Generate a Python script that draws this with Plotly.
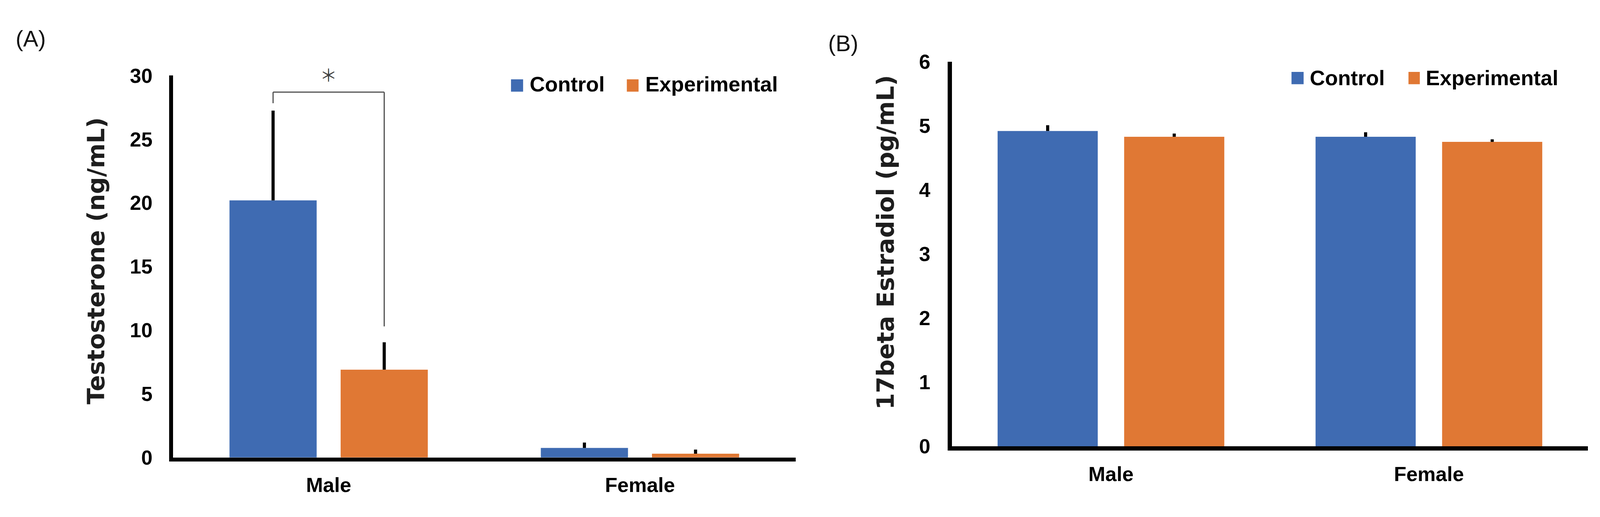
import plotly.graph_objects as go

W, H = 4227, 1323

# ---- data ----
sexes = ["Male", "Female"]
groups = ["Control", "Experimental"]

testo_control = [20.2, 0.75]
testo_control_err = [7.05, 0.42]
testo_exp = [6.9, 0.3]
testo_exp_err = [2.15, 0.32]

estra_control = [4.92, 4.83]
estra_control_err = [0.09, 0.07]
estra_exp = [4.83, 4.75]
estra_exp_err = [0.05, 0.04]

no_err = [0, 0]

# significance bracket (Male, control vs experimental)
bracket_top = 28.7
bracket_legs = [27.83, 10.3]
star_y = 30.1
ymax_a, ymax_b = 30, 6

BLUE = "#3f6bb2"
ORANGE = "#e07834"


def px(x):
    return x / W


def py(y):
    return 1 - y / H


# bar geometry per panel (category units)
bw_a, gap_a = 0.28, 0.077
bw_b, gap_b = 0.315, 0.083


def bar(y, err, name, color, width, offset, xa, ya):
    return go.Bar(
        x=sexes, y=y, name=name, width=width, offset=offset,
        marker=dict(color=color, line=dict(width=0)),
        error_y=dict(type="data", symmetric=False, array=err, arrayminus=no_err,
                     color="black", thickness=8, width=0),
        xaxis=xa, yaxis=ya, showlegend=False,
    )


fig = go.Figure()
fig.add_trace(bar(testo_control, testo_control_err, groups[0], BLUE, bw_a, -(bw_a + gap_a / 2), "x", "y"))
fig.add_trace(bar(testo_exp, testo_exp_err, groups[1], ORANGE, bw_a, gap_a / 2, "x", "y"))
fig.add_trace(bar(estra_control, estra_control_err, groups[0], BLUE, bw_b, -(bw_b + gap_b / 2), "x2", "y2"))
fig.add_trace(bar(estra_exp, estra_exp_err, groups[1], ORANGE, bw_b, gap_b / 2, "x2", "y2"))

tick_font = dict(family="Liberation Sans", size=52, color="black", weight="bold")

axis_common = dict(showgrid=False, zeroline=False, showline=True, linecolor="black",
                   ticks="outside", tickcolor="rgba(0,0,0,0)", tickfont=tick_font)

fig.update_layout(
    autosize=True,
    margin=dict(l=0, r=0, t=0, b=0),
    paper_bgcolor="white", plot_bgcolor="white",
    barmode="overlay",
    xaxis=dict(domain=[px(457), px(2102)], anchor="y", type="category",
               range=[-0.5, 1.5], linewidth=10, ticklen=16, **axis_common),
    yaxis=dict(domain=[py(1194), py(172)], anchor="x", range=[0, ymax_a], dtick=5,
               linewidth=10, ticklen=32, **axis_common),
    xaxis2=dict(domain=[px(2515), px(4195)], anchor="y2", type="category",
                range=[-0.5, 1.5], linewidth=11, ticklen=16, **axis_common),
    yaxis2=dict(domain=[py(1164), py(135)], anchor="x2", range=[0, ymax_b], dtick=1,
                linewidth=11, ticklen=34, **axis_common),
)

centred = dict(showarrow=False, xanchor="center", yanchor="middle")

# significance bracket drawn in data coordinates of panel A
ctrl_c = -(bw_a + gap_a) / 2
exp_c = (bw_a + gap_a) / 2
br = dict(color="#505050", width=3)
fig.add_shape(type="line", xref="x", yref="y", x0=ctrl_c, x1=ctrl_c, y0=bracket_legs[0], y1=bracket_top, line=br)
fig.add_shape(type="line", xref="x", yref="y", x0=ctrl_c, x1=exp_c, y0=bracket_top, y1=bracket_top, line=br)
fig.add_shape(type="line", xref="x", yref="y", x0=exp_c, x1=exp_c, y0=bracket_legs[1], y1=bracket_top, line=br)
fig.add_annotation(x=0, y=star_y / ymax_a, xref="x", yref="y domain", text="＊", **centred,
                   font=dict(family="Noto Sans CJK JP", size=44, color="#404040"))

# axis titles
title_font = dict(family="DejaVu Sans", size=61, color="#1e1e1e", weight="bold")
fig.add_annotation(x=px(254), y=py(668), xref="paper", yref="paper", text="Testosterone (ng/mL)",
                   textangle=-90, font=title_font, **centred)
fig.add_annotation(x=px(2339), y=py(619), xref="paper", yref="paper", text="17beta Estradiol (pg/mL)",
                   textangle=-90, font=title_font, **centred)

# panel labels
panel_font = dict(family="Liberation Sans", size=58, color="#111111")
fig.add_annotation(x=px(81), y=py(73), xref="paper", yref="paper", text="(A)", font=panel_font, **centred)
fig.add_annotation(x=px(2228), y=py(85), xref="paper", yref="paper", text="(B)", font=panel_font, **centred)

# legends (drawn by hand so the swatches match the large text)
leg_font = dict(family="Liberation Sans", size=54, color="black", weight="bold")
legends = [
    # (swatch x0, x1, y top, y bottom, text x, text y center)
    [(1350, 1382, 182, 215, 1397, 195), (1656, 1687, 182, 215, 1703, 195)],
    [(3412, 3444, 162, 195, 3458, 178), (3721, 3751, 162, 195, 3765, 178)],
]
for panel in legends:
    for (x0, x1, yt, yb, tx, ty), name, col in zip(panel, groups, [BLUE, ORANGE]):
        fig.add_shape(type="rect", xref="paper", yref="paper", x0=px(x0), x1=px(x1),
                      y0=py(yb), y1=py(yt), fillcolor=col, line=dict(width=0))
        fig.add_annotation(x=px(tx), y=py(ty), xref="paper", yref="paper", text=name,
                           xanchor="left", yanchor="middle", showarrow=False, font=leg_font)

fig.write_html(
    "out.html",
    config={"responsive": True, "displayModeBar": False},
    default_width="100vw",
    default_height="100vh",
    post_script="document.body.style.margin='0';"
                "document.documentElement.style.overflow='hidden';"
                "Plotly.Plots.resize(document.getElementById('{plot_id}'));",
)
